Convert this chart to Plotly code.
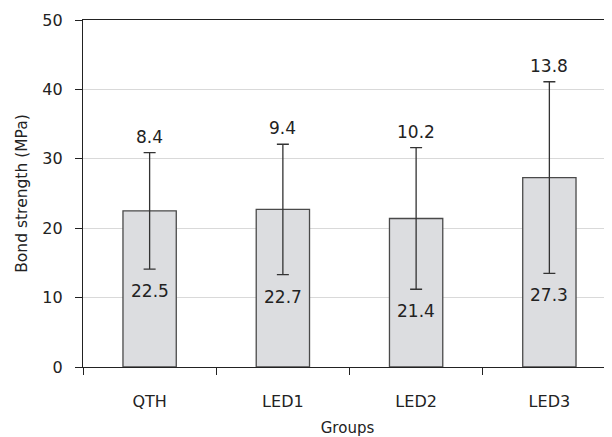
import plotly.graph_objects as go

groups = ["QTH", "LED1", "LED2", "LED3"]
means = [22.5, 22.7, 21.4, 27.3]
sds = [8.4, 9.4, 10.2, 13.8]
y_ticks = [0, 10, 20, 30, 40, 50]

FONT = "DejaVu Sans"
TXT = "#222222"

fig = go.Figure()
fig.add_trace(go.Bar(
    x=groups, y=means, width=0.4,
    marker=dict(color="#dcdde0", line=dict(color="#4a4a4a", width=1.3)),
    error_y=dict(type="data", array=sds, visible=True, color="#333333",
                 thickness=1.3, width=6),
    showlegend=False, hoverinfo="skip",
))

ann = []
for g, m, s in zip(groups, means, sds):
    ann.append(dict(x=g, y=m + s, text=f"{s}", showarrow=False, yanchor="bottom",
                    yshift=4, font=dict(family=FONT, size=17, color=TXT)))
    ann.append(dict(x=g, y=m - s, text=f"{m}", showarrow=False, yanchor="top",
                    yshift=-10, font=dict(family=FONT, size=17, color=TXT)))

fig.update_layout(
    width=604, height=429,
    margin=dict(l=75, r=0, t=12, b=70, autoexpand=False),
    paper_bgcolor="white", plot_bgcolor="white",
    font=dict(family=FONT, size=15, color=TXT),
    annotations=ann,
    xaxis=dict(
        range=[-0.5, 3.47], type="category", tickson="boundaries",
        ticks="outside", ticklen=7, tickcolor="#222", tickwidth=1.2,
        showline=True, linecolor="#222", linewidth=1.2, mirror=True,
        showgrid=False, ticklabelstandoff=20,
        tickfont=dict(family=FONT, size=16, color=TXT),
        title=dict(text="Groups", standoff=12, font=dict(family=FONT, size=15, color=TXT)),
        automargin=False,
    ),
    yaxis=dict(
        range=[0, 50], tickvals=y_ticks, ticks="outside", ticklen=7,
        tickcolor="#222", tickwidth=1.2,
        showline=True, linecolor="#222", linewidth=1.2,
        showgrid=True, gridcolor="#d9d9d9", gridwidth=1, zeroline=False,
        ticklabelstandoff=9,
        tickfont=dict(family=FONT, size=16, color=TXT),
        title=dict(text="Bond strength (MPa)", standoff=10,
                   font=dict(family=FONT, size=15.5, color=TXT)),
        automargin=False,
    ),
)

fig.write_html("out.html")
